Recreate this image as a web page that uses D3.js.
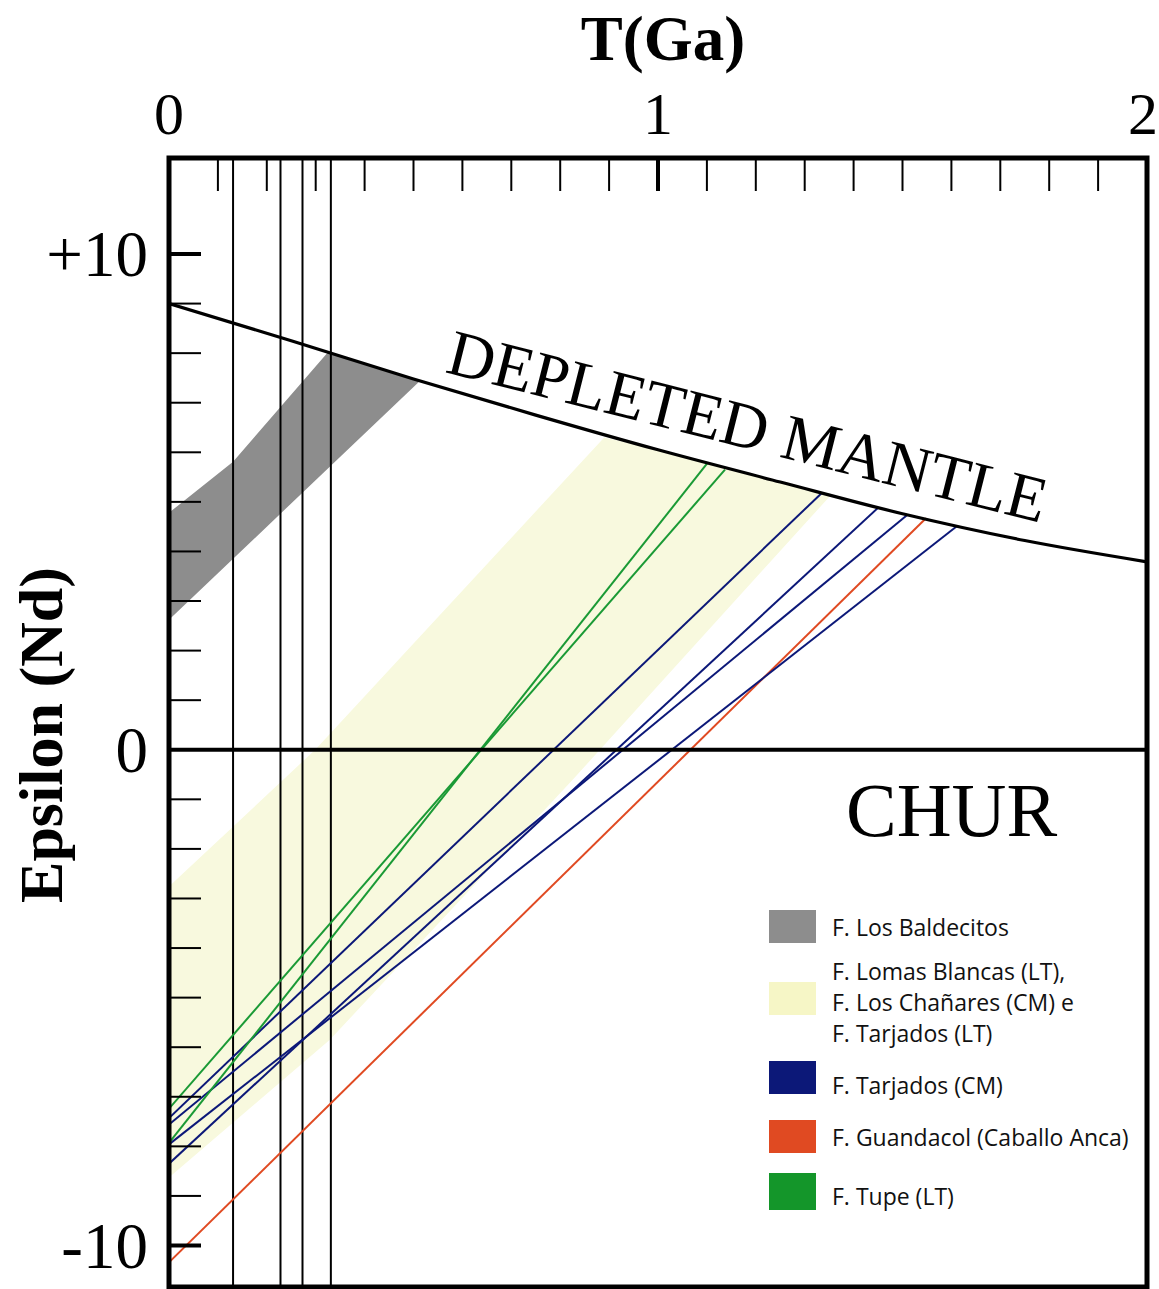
<!DOCTYPE html>
<html>
<head>
<meta charset="utf-8">
<script src="https://cdn.jsdelivr.net/npm/d3@7"></script>
<style>
  html, body { margin: 0; padding: 0; background: #ffffff; }
  svg { display: block; }
</style>
</head>
<body>
<svg id="chart" width="1159" height="1289"></svg>
<script>
// ---------------- DATA ----------------
// Depleted mantle evolution curve
const dmT   = [0, 0.25, 0.5, 0.75, 1.0, 1.25, 1.5, 1.75, 2.0];
const dmEps = [9.0, 8.25, 7.48, 6.75, 6.05, 5.40, 4.76, 4.22, 3.79];

// F. Los Baldecitos field (grey polygon)
const baldecitosT   = [0, 0.131, 0.325, 0.513, 0];
const baldecitosEps = [4.78, 5.81, 8.02, 7.44, 2.62];

// F. Lomas Blancas (LT), F. Los Chañares (CM) e F. Tarjados (LT) field (yellow polygon)
const lomasT   = [0, 0.299, 0.89, 1.0, 1.25, 1.352, 0.826, 0.329, 0];
const lomasEps = [-2.76, 0, 6.30, 6.05, 5.40, 5.12, -0.60, -5.85, -8.63];

// F. Tarjados (CM) evolution lines: eps at T=0 and model age on DM
const tarjadosEps0  = [-7.43, -7.56, -7.96, -8.35];
const tarjadosTdm   = [1.335, 1.509, 1.611, 1.450];
const tarjadosEpsDm = [5.18, 4.73, 4.51, 4.88];

// F. Guandacol (Caballo Anca)
const guandacolEps0  = [-10.34];
const guandacolTdm   = [1.548];
const guandacolEpsDm = [4.67];

// F. Tupe (LT)
const tupeEps0  = [-7.24, -7.93];
const tupeTdm   = [1.137, 1.101];
const tupeEpsDm = [5.65, 5.78];

// Vertical reference lines (ages, Ga)
const refAges = [0.131, 0.228, 0.273, 0.331];

// Tick labels
const xTickValues = [0, 1, 2];
const xTickLabels = ["0", "1", "2"];
const yTickValues = [10, 0, -10];
const yTickLabels = ["+10", "0", "-10"];

// Legend
const legendLabels = [
  ["F. Los Baldecitos"],
  ["F. Lomas Blancas (LT),", "F. Los Chañares (CM) e", "F. Tarjados (LT)"],
  ["F. Tarjados (CM)"],
  ["F. Guandacol (Caballo Anca)"],
  ["F. Tupe (LT)"]
];
const legendColors = ["#8d8d8d", "#f6f6c6", "#0c1878", "#e04a22", "#14962a"];

// ---------------- LAYOUT ----------------
const svg = d3.select("#chart");
const serif = "'Liberation Serif', 'Times New Roman', Times, serif";
const sans = "'Open Sans', 'Noto Sans', sans-serif";

const x = d3.scaleLinear().domain([0, 2]).range([169, 1147]);
const y = d3.scaleLinear().domain([-10, 10]).range([1245.5, 254]);
const frameTop = 158, frameBottom = 1287, frameLeft = 169, frameRight = 1147;

const defs = svg.append("defs");
defs.append("clipPath").attr("id", "plotClip")
  .append("rect").attr("x", frameLeft).attr("y", frameTop)
  .attr("width", frameRight - frameLeft).attr("height", frameBottom - frameTop);

const plot = svg.append("g").attr("clip-path", "url(#plotClip)");

const poly = (ts, es) => ts.map((t, i) => [x(t), y(es[i])]);
const lineGen = d3.line();

// yellow field
plot.append("path")
  .attr("d", lineGen(poly(lomasT, lomasEps)) + "Z")
  .attr("fill", "#f8f9de").attr("stroke", "none");

// grey field
plot.append("path")
  .attr("d", lineGen(poly(baldecitosT, baldecitosEps)) + "Z")
  .attr("fill", "#8d8d8d").attr("stroke", "none");

// vertical reference lines
plot.selectAll("line.ref").data(refAges).join("line")
  .attr("class", "ref")
  .attr("x1", d => x(d)).attr("x2", d => x(d))
  .attr("y1", frameTop).attr("y2", frameBottom)
  .attr("stroke", "#000").attr("stroke-width", 2);

// sample evolution lines
function drawLines(eps0, tdm, epsdm, color) {
  plot.selectAll(null).data(eps0.map((e, i) => [[0, e], [tdm[i], epsdm[i]]])).join("line")
    .attr("x1", d => x(d[0][0])).attr("y1", d => y(d[0][1]))
    .attr("x2", d => x(d[1][0])).attr("y2", d => y(d[1][1]))
    .attr("stroke", color).attr("stroke-width", 2);
}
drawLines(guandacolEps0, guandacolTdm, guandacolEpsDm, "#e04a22");
drawLines(tarjadosEps0, tarjadosTdm, tarjadosEpsDm, "#0c1878");
drawLines(tupeEps0, tupeTdm, tupeEpsDm, "#1a9a35");

// CHUR line
plot.append("line")
  .attr("x1", frameLeft).attr("x2", frameRight)
  .attr("y1", y(0)).attr("y2", y(0))
  .attr("stroke", "#000").attr("stroke-width", 4);

// Depleted mantle curve
const dmLine = d3.line().x(d => x(d[0])).y(d => y(d[1])).curve(d3.curveMonotoneX);
plot.append("path")
  .attr("d", dmLine(dmT.map((t, i) => [t, dmEps[i]])))
  .attr("fill", "none").attr("stroke", "#000").attr("stroke-width", 3.2);

// ---------------- AXES / TICKS ----------------
// top minor ticks every 0.1 Ga
const topTicks = d3.range(1, 20).map(i => i / 10);
svg.selectAll("line.tt").data(topTicks).join("line")
  .attr("class", "tt")
  .attr("x1", d => x(d)).attr("x2", d => x(d))
  .attr("y1", frameTop).attr("y2", frameTop + 33)
  .attr("stroke", "#000")
  .attr("stroke-width", d => Math.abs(d - 1) < 1e-9 ? 4 : 2);

// left ticks every 1 epsilon unit
const leftTicks = d3.range(-10, 12).filter(v => v !== 0 && v !== 11);
svg.selectAll("line.lt").data(leftTicks).join("line")
  .attr("class", "lt")
  .attr("x1", frameLeft).attr("x2", frameLeft + 32)
  .attr("y1", d => y(d)).attr("y2", d => y(d))
  .attr("stroke", "#000")
  .attr("stroke-width", d => Math.abs(d) === 10 ? 4 : 2);

// frame
svg.append("path")
  .attr("d", `M${frameLeft},${frameBottom} L${frameLeft},${frameTop} L${frameRight},${frameTop} L${frameRight},${frameBottom} Z`)
  .attr("fill", "none").attr("stroke", "#000").attr("stroke-width", 5);

// top tick labels (last one kept inside the page edge)
svg.selectAll("text.xl").data(xTickValues).join("text")
  .attr("class", "xl")
  .attr("x", (d, i) => i === xTickValues.length - 1 ? 1158 : x(d))
  .attr("y", 134)
  .attr("text-anchor", (d, i) => i === xTickValues.length - 1 ? "end" : "middle")
  .attr("font-family", serif).attr("font-size", 60)
  .text((d, i) => xTickLabels[i]);

// left tick labels
svg.selectAll("text.yl").data(yTickValues).join("text")
  .attr("class", "yl")
  .attr("x", 148).attr("y", d => y(d) + 22)
  .attr("text-anchor", "end")
  .attr("font-family", serif).attr("font-size", 65)
  .text((d, i) => yTickLabels[i]);

// axis titles
svg.append("text")
  .attr("x", 663).attr("y", 60)
  .attr("text-anchor", "middle")
  .attr("font-family", serif).attr("font-weight", "bold").attr("font-size", 63)
  .text("T(Ga)");

svg.append("text")
  .attr("transform", "translate(62,735) rotate(-90)")
  .attr("text-anchor", "middle")
  .attr("font-family", serif).attr("font-weight", "bold").attr("font-size", 62)
  .text("Epsilon (Nd)");

// curve labels
svg.append("text")
  .attr("transform", "translate(444,372) rotate(14.2)")
  .attr("font-family", serif).attr("font-size", 65)
  .text("DEPLETED MANTLE");

svg.append("text")
  .attr("x", 846).attr("y", 836)
  .attr("font-family", serif).attr("font-size", 76)
  .text("CHUR");

// ---------------- LEGEND ----------------
const swatchY = [910, 982, 1061, 1120, 1173];
const swatchH = [33, 33, 33, 33, 37];
const textY = [[936], [980, 1011, 1042], [1094], [1146], [1205]];
const leg = svg.append("g");
legendLabels.forEach((lines, i) => {
  leg.append("rect")
    .attr("x", 769).attr("y", swatchY[i])
    .attr("width", 47).attr("height", swatchH[i])
    .attr("fill", legendColors[i]);
  lines.forEach((t, j) => {
    leg.append("text")
      .attr("x", 832).attr("y", textY[i][j])
      .attr("font-family", sans).attr("font-size", 23)
      .attr("fill", "#111")
      .text(t);
  });
});
</script>
</body>
</html>
